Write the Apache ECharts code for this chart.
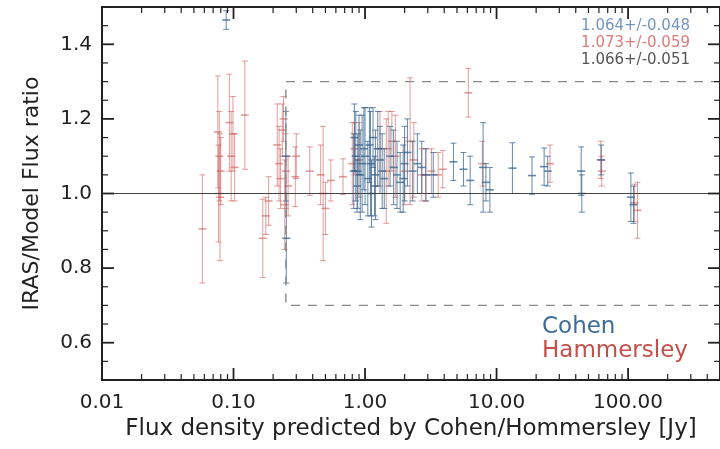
<!DOCTYPE html>
<html>
<head>
<meta charset="utf-8">
<script src="https://cdn.jsdelivr.net/npm/echarts@6/dist/echarts.min.js"></script>
<style>
html,body{margin:0;padding:0;background:#fff;}
#chart{width:720px;height:449px;}
</style>
</head>
<body>
<div id="chart"></div>
<script>
// ---- data ----
// Cohen (blue)
const cohenFlux  = [0.088, 0.25, 0.252, 0.82, 0.83, 0.85, 0.87, 0.88, 0.90, 0.92, 0.95, 0.98, 1.0, 1.05, 1.08, 1.1, 1.12, 1.15, 1.18, 1.2, 1.25, 1.3, 1.35, 1.4, 1.55, 1.65, 1.75, 1.85, 1.95, 2.0, 2.1, 2.3, 2.5, 2.7, 2.9, 3.3, 4.7, 5.6, 6.3, 7.9, 8.3, 8.9, 13.2, 18.6, 23, 24.5, 44, 44.5, 62.5, 105, 110];
const cohenRatio = [1.465, 1.10, 0.88, 1.06, 1.15, 1.10, 1.02, 1.06, 1.13, 1.05, 1.08, 1.12, 1.10, 1.04, 1.13, 1.08, 1.00, 1.15, 1.02, 1.05, 1.12, 1.09, 1.06, 1.04, 1.10, 1.07, 1.05, 1.03, 1.04, 1.08, 1.11, 1.06, 1.08, 1.07, 1.05, 1.05, 1.085, 1.065, 1.035, 1.07, 1.03, 1.01, 1.068, 1.048, 1.072, 1.06, 1.06, 1.00, 1.09, 0.99, 0.97];
const cohenErr   = [0.025, 0.12, 0.12, 0.10, 0.09, 0.12, 0.07, 0.10, 0.08, 0.12, 0.13, 0.11, 0.13, 0.10, 0.10, 0.14, 0.09, 0.08, 0.08, 0.12, 0.10, 0.09, 0.10, 0.08, 0.08, 0.10, 0.09, 0.08, 0.09, 0.10, 0.09, 0.08, 0.08, 0.07, 0.07, 0.06, 0.05, 0.045, 0.065, 0.12, 0.05, 0.06, 0.068, 0.05, 0.05, 0.04, 0.065, 0.05, 0.04, 0.065, 0.05];
// Hammersley (red)
const hamFlux  = [0.058, 0.076, 0.078, 0.077, 0.079, 0.080, 0.093, 0.096, 0.099, 0.102, 0.122, 0.167, 0.176, 0.185, 0.215, 0.222, 0.228, 0.235, 0.24, 0.245, 0.25, 0.26, 0.295, 0.30, 0.38, 0.46, 0.48, 0.50, 0.55, 0.68, 0.80, 0.83, 0.90, 1.3, 1.45, 1.5, 1.6, 1.7, 2.0, 2.2, 2.35, 2.7, 2.9, 3.2, 3.6, 3.9, 6.1, 7.8, 25.5, 62, 63, 112, 118];
const hamRatio = [0.905, 1.165, 1.10, 1.00, 0.99, 1.06, 1.19, 1.10, 1.16, 1.07, 1.21, 0.88, 0.94, 0.98, 1.13, 1.08, 1.04, 1.17, 1.20, 0.97, 1.06, 1.02, 1.045, 1.10, 1.06, 1.05, 1.00, 0.96, 1.035, 1.045, 1.08, 1.12, 1.09, 1.12, 1.06, 1.12, 1.14, 1.10, 1.06, 1.14, 1.09, 1.05, 1.05, 1.06, 1.05, 1.065, 1.27, 1.08, 1.08, 1.09, 1.06, 0.975, 0.955];
const hamErr   = [0.145, 0.15, 0.12, 0.13, 0.17, 0.09, 0.13, 0.12, 0.10, 0.09, 0.145, 0.105, 0.05, 0.065, 0.11, 0.10, 0.08, 0.07, 0.06, 0.12, 0.10, 0.08, 0.08, 0.06, 0.065, 0.08, 0.18, 0.07, 0.055, 0.048, 0.11, 0.07, 0.10, 0.10, 0.14, 0.10, 0.08, 0.11, 0.09, 0.17, 0.10, 0.07, 0.07, 0.06, 0.06, 0.05, 0.065, 0.06, 0.05, 0.05, 0.04, 0.05, 0.075];
// axis and annotation values
const xTickDecades = [0.01, 0.1, 1, 10, 100];
const yMajorTicks  = [0.6, 0.8, 1.0, 1.2, 1.4];
const refRatio = 1.0;
const boxFluxMin = 0.25;
const boxRatio = [0.7, 1.3];
const statsText = ['1.064+/-0.048', '1.073+/-0.059', '1.066+/-0.051'];
const legendNames = ['Cohen', 'Hammersley'];
const xMin = 0.01, xMax = 500, yMin = 0.5, yMax = 1.5;

const BLUE = 'rgba(52,98,140,0.75)';
const RED = 'rgba(205,92,88,0.6)';
const FONT = 'DejaVu Sans';

function zip(a, b, c) { return a.map((v, i) => [v, b[i], c[i]]); }

function errBar(color) {
  return function (params, api) {
    const x = api.value(0), y = api.value(1), e = api.value(2);
    const c = api.coord([x, y]);
    const t = api.coord([x, y + e]);
    const b = api.coord([x, y - e]);
    const st = { stroke: color, lineWidth: 1 };
    return {
      type: 'group',
      children: [
        { type: 'line', shape: { x1: c[0], y1: t[1], x2: c[0], y2: b[1] }, style: st },
        { type: 'line', shape: { x1: c[0] - 3, y1: t[1], x2: c[0] + 3, y2: t[1] }, style: st },
        { type: 'line', shape: { x1: c[0] - 3, y1: b[1], x2: c[0] + 3, y2: b[1] }, style: st },
        { type: 'line', shape: { x1: c[0] - 4, y1: c[1], x2: c[0] + 4, y2: c[1] }, style: { stroke: color, lineWidth: 1.6 } }
      ]
    };
  };
}

function tickRender(params, api) {
  const cs = params.coordSys;
  const ch = [];
  const st = (w) => ({ stroke: '#222', lineWidth: w });
  const bottom = cs.y + cs.height, right = cs.x + cs.width;
  xTickDecades.forEach(d => {
    for (let m = 1; m <= 9; m++) {
      const v = d * m;
      if (v > xMax) continue;
      const px = api.coord([v, 1])[0];
      const len = m === 1 ? 12 : 6;
      const w = m === 1 ? 1.8 : 1.2;
      ch.push({ type: 'line', shape: { x1: px, y1: bottom, x2: px, y2: bottom - len }, style: st(w) });
      ch.push({ type: 'line', shape: { x1: px, y1: cs.y, x2: px, y2: cs.y + len }, style: st(w) });
    }
  });
  for (let k = 0; k <= 20; k++) {
    const v = yMin + k * 0.05;
    const major = yMajorTicks.some(t => Math.abs(t - v) < 1e-6);
    const py = api.coord([1, v])[1];
    const len = major ? 12 : 6;
    const w = major ? 1.8 : 1.2;
    ch.push({ type: 'line', shape: { x1: cs.x, y1: py, x2: cs.x + len, y2: py }, style: st(w) });
    ch.push({ type: 'line', shape: { x1: right, y1: py, x2: right - len, y2: py }, style: st(w) });
  }
  return { type: 'group', children: ch };
}

const chart = echarts.init(document.getElementById('chart'), null, { renderer: 'canvas' });
chart.setOption({
  animation: false,
  backgroundColor: '#fff',
  grid: { left: 102, right: -3, top: 7, bottom: 69, show: true, borderColor: '#222', borderWidth: 2, backgroundColor: 'transparent' },
  xAxis: {
    type: 'log', logBase: 10, min: xMin, max: xMax,
    axisLine: { show: false }, axisTick: { show: false }, splitLine: { show: false }, minorTick: { show: false },
    axisLabel: {
      show: true, margin: 13, color: '#222', fontFamily: FONT, fontSize: 20, showMaxLabel: false,
      formatter: v => (xTickDecades.some(d => Math.abs(d - v) / d < 1e-6) ? v.toFixed(2) : '')
    },
    name: 'Flux density predicted by Cohen/Hommersley [Jy]',
    nameLocation: 'middle', nameGap: 37,
    nameTextStyle: { fontFamily: FONT, fontSize: 23, color: '#222' }
  },
  yAxis: {
    type: 'value', min: yMin, max: yMax, interval: 0.1,
    axisLine: { show: false }, axisTick: { show: false }, splitLine: { show: false },
    axisLabel: {
      margin: 10, color: '#222', fontFamily: FONT, fontSize: 20,
      formatter: v => (yMajorTicks.some(t => Math.abs(t - v) < 1e-6) ? v.toFixed(1) : '')
    },
    name: 'IRAS/Model Flux ratio',
    nameLocation: 'middle', nameGap: 59, nameRotate: 90,
    nameTextStyle: { fontFamily: FONT, fontSize: 22, color: '#222' }
  },
  series: [
    {
      name: 'ref', type: 'line', data: [], silent: true,
      markLine: {
        silent: true, symbol: 'none', label: { show: false },
        lineStyle: { color: '#444', width: 1.2, type: 'solid' },
        data: [{ yAxis: refRatio }]
      }
    },
    {
      name: 'box', type: 'line', silent: true, symbol: 'none',
      lineStyle: { color: '#8a8a8a', width: 1.4, type: [9, 8] },
      data: [[xMax, boxRatio[1]], [boxFluxMin, boxRatio[1]], [boxFluxMin, boxRatio[0]], [xMax, boxRatio[0]]]
    },
    {
      name: 'Hammersley', type: 'custom', clip: true, renderItem: errBar(RED),
      data: zip(hamFlux, hamRatio, hamErr)
    },
    {
      name: 'Cohen', type: 'custom', clip: true, renderItem: errBar(BLUE),
      data: zip(cohenFlux, cohenRatio, cohenErr)
    },
    {
      name: 'ticks', type: 'custom', silent: true, renderItem: tickRender, data: [[1, 1]], z: 10
    }
  ],
  graphic: [
    { type: 'text', right: 30, top: 19, style: { text: statsText[0], font: '15px "DejaVu Sans"', fill: '#7396bd' } },
    { type: 'text', right: 30, top: 36, style: { text: statsText[1], font: '15px "DejaVu Sans"', fill: '#dc7c7a' } },
    { type: 'text', right: 30, top: 53, style: { text: statsText[2], font: '15px "DejaVu Sans"', fill: '#555' } },
    { type: 'text', left: 542, top: 316, style: { text: legendNames[0], font: '23px "DejaVu Sans"', fill: '#3d6c96' } },
    { type: 'text', left: 542, top: 340, style: { text: legendNames[1], font: '23px "DejaVu Sans"', fill: '#c64e48' } }
  ]
});
</script>
</body>
</html>
